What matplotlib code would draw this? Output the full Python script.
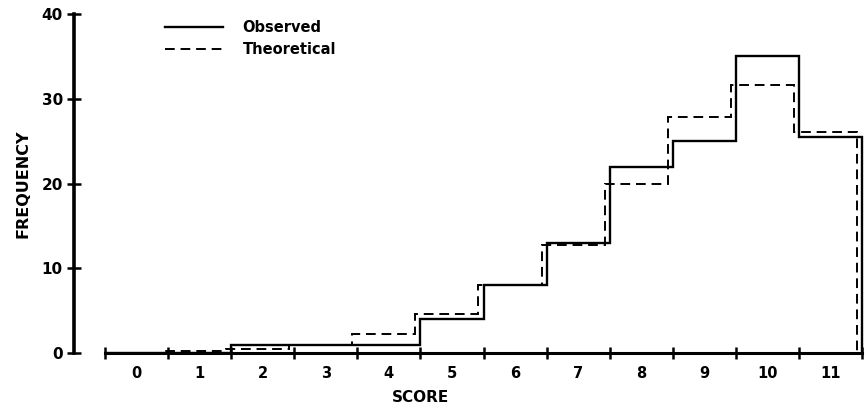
import numpy as np
import matplotlib
matplotlib.use("Agg")
import matplotlib.pyplot as plt

# data
scores = list(range(12))
observed = [0, 0, 1, 1, 1, 4, 8, 13, 22, 25, 35, 25.5]
theoretical = [0, 0.2, 0.5, 1.0, 2.3, 4.6, 8.0, 12.7, 20.0, 27.9, 31.6, 26.1]
y_ticks = [0, 10, 20, 30, 40]

plt.rcParams["font.family"] = ["DejaVu Sans"]
plt.rcParams["font.weight"] = "bold"

fig = plt.figure(figsize=(8.67, 4.09), dpi=100)
ax = fig.add_axes([74 / 867, 56 / 409, 792 / 867, 339 / 409])

edges = np.arange(len(scores) + 1) - 0.5
edges_t = edges - 0.08  # dashed outline sits a little to the left
edges_t[0] = edges[0]

ax.stairs(observed, edges, baseline=0, color="black", lw=1.7,
          label="Observed", zorder=3)
ax.stairs(theoretical, edges_t, baseline=0, color="black", lw=1.4,
          linestyle=(0, (5, 3)), label="Theoretical", zorder=3)

ax.set_xlim(-0.991, 11.563)
ax.set_ylim(0, 40)

for s in ["top", "right"]:
    ax.spines[s].set_visible(False)
ax.spines["left"].set_linewidth(2.6)
ax.spines["bottom"].set_linewidth(2.2)
ax.spines["bottom"].set_bounds(edges[0], edges[-1])
ax.spines["bottom"].set_zorder(4)

ax.set_yticks(y_ticks)
ax.tick_params(axis="y", direction="inout", length=10, width=1.8,
               labelsize=11, pad=3)
ax.set_xticks(edges)
ax.set_xticklabels([])
ax.set_xticks(scores, minor=True)
ax.set_xticklabels([str(s) for s in scores], minor=True)
ax.tick_params(axis="x", which="major", direction="inout", length=9, width=1.8)
ax.tick_params(axis="x", which="minor", length=0, labelsize=10.5, pad=9)

ax.set_ylabel("FREQUENCY", fontsize=11.5, fontweight="bold", labelpad=8)
ax.set_xlabel("SCORE", fontsize=11, fontweight="bold")
ax.xaxis.set_label_coords(0.437, -0.11)

leg = ax.legend(loc="upper left", bbox_to_anchor=(152 / 867, 1 - 7 / 409),
                bbox_transform=fig.transFigure, frameon=False, fontsize=10.5,
                handlelength=4.0, handletextpad=1.3, labelspacing=0.5)

fig.savefig("out.png", dpi=100)
